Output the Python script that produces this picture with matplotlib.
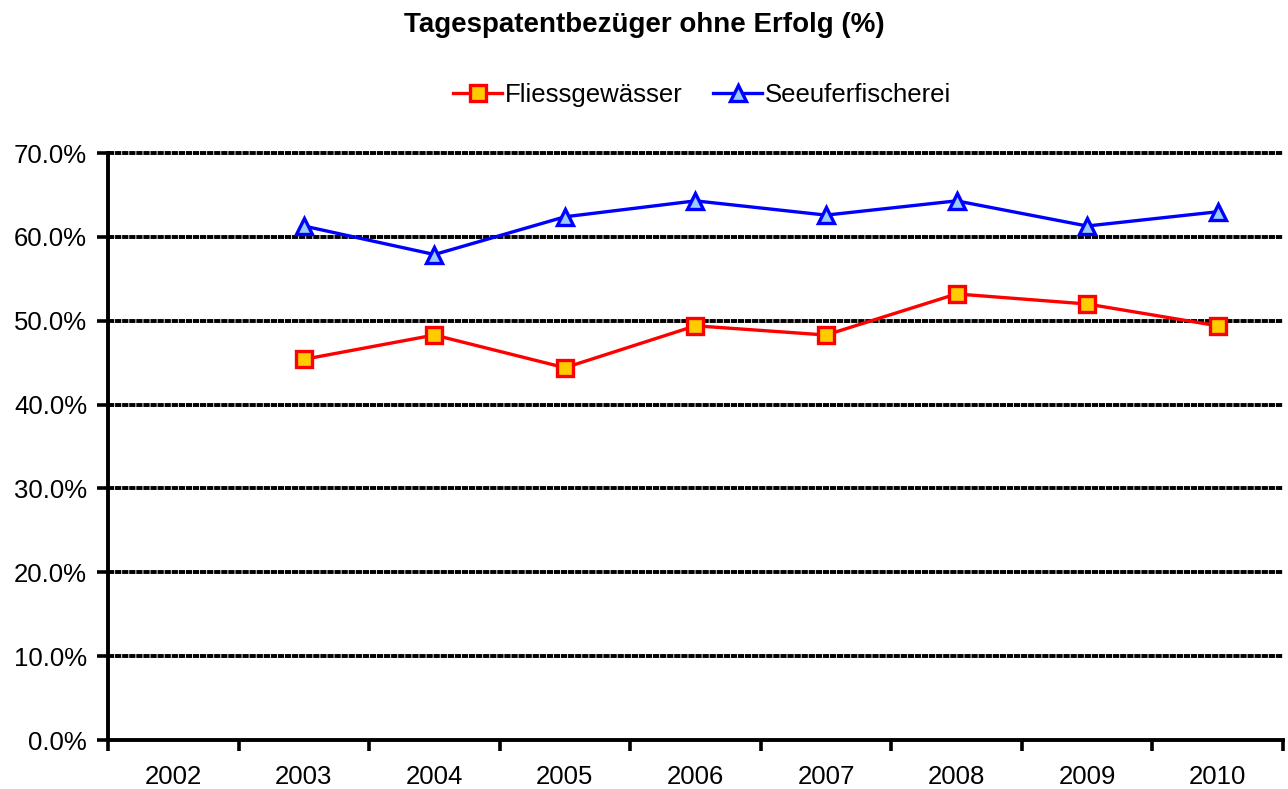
import matplotlib.pyplot as plt
from matplotlib.ticker import FuncFormatter, FixedLocator

plt.rcParams['font.family'] = ['Liberation Sans', 'DejaVu Sans']

# data
years = ['2002', '2003', '2004', '2005', '2006', '2007', '2008', '2009', '2010']
fliess = [None, 45.4, 48.3, 44.4, 49.4, 48.3, 53.2, 52.0, 49.4]
seeufer = [None, 61.3, 57.9, 62.4, 64.3, 62.6, 64.3, 61.3, 63.0]

fig = plt.figure(figsize=(12.88, 7.89), dpi=100)
ax = fig.add_axes([0.0839, 0.0621, 0.9121, 0.7439])

x = list(range(len(years)))
fx = [i for i, v in zip(x, fliess) if v is not None]
fy = [v for v in fliess if v is not None]
sx = [i for i, v in zip(x, seeufer) if v is not None]
sy = [v for v in seeufer if v is not None]

# gridlines: heavy black with tiny breaks
for g in range(10, 80, 10):
    ax.axhline(g, color='black', lw=2.8, dashes=(1.6, 0.22), zorder=1, clip_on=False)

ax.plot(fx, fy, color='#ff0000', lw=2.4, marker='s', ms=12,
        mfc='#ffcc00', mec='#ff0000', mew=2.4, label='Fliessgewässer', zorder=3)
ax.plot(sx, sy, color='#0000ff', lw=2.4, marker='^', ms=12,
        mfc='#99ccff', mec='#0000ff', mew=2.4, label='Seeuferfischerei', zorder=3)

ax.set_xlim(-0.5, len(years) - 0.5)
ax.set_ylim(0, 70)
ax.set_yticks(range(0, 80, 10))
ax.yaxis.set_major_formatter(FuncFormatter(lambda v, p: f'{v:.1f}%'))

ax.set_xticks(x)
ax.set_xticklabels(years)
ax.xaxis.set_minor_locator(FixedLocator([i - 0.5 for i in range(len(years) + 1)]))
ax.tick_params(axis='x', which='major', length=0, labelsize=18.5, pad=18)
ax.tick_params(axis='x', which='minor', length=8, width=2.6, direction='out')
ax.tick_params(axis='y', length=8, width=2.6, direction='out', labelsize=18.5, pad=7)

for s in ['top', 'right']:
    ax.spines[s].set_visible(False)
for s in ['left', 'bottom']:
    ax.spines[s].set_linewidth(2.8)

fig.text(0.5, 0.968, 'Tagespatentbezüger ohne Erfolg (%)', ha='center', va='center',
         fontsize=20, fontweight='bold')
fig.legend(loc='center', bbox_to_anchor=(0.545, 0.879), ncol=2, frameon=False,
           fontsize=18.5, handlelength=1.9, handletextpad=0.1, columnspacing=1.2)

fig.savefig('out.png', dpi=100)
